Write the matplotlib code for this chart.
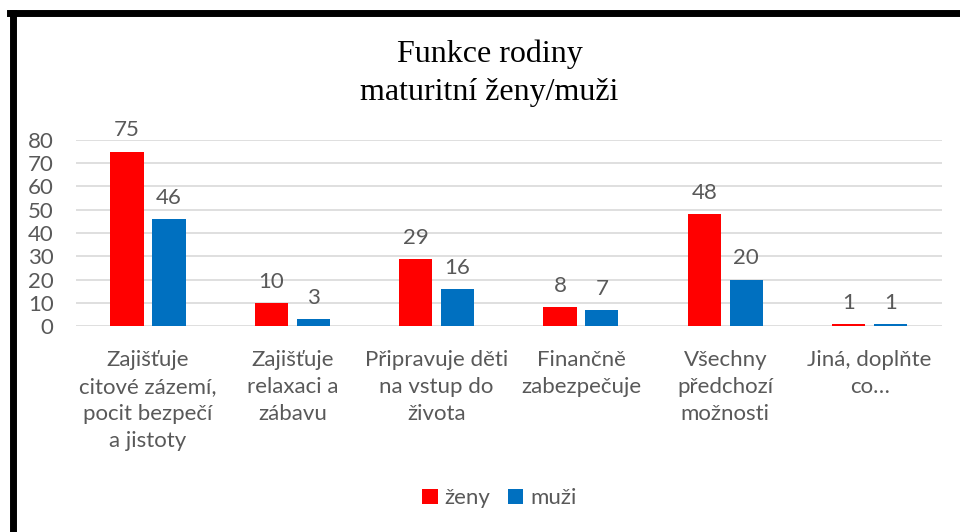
import numpy as np
import matplotlib.pyplot as plt
from matplotlib.lines import Line2D

categories = ['Zajišťuje\ncitové zázemí,\npocit bezpečí\na jistoty',
              'Zajišťuje\nrelaxaci a\nzábavu',
              'Připravuje děti\nna vstup do\nživota',
              'Finančně\nzabezpečuje',
              'Všechny\npředchozí\nmožnosti',
              'Jiná, doplňte\nco…']
zeny = [75, 10, 29, 8, 48, 1]
muzi = [46, 3, 16, 7, 20, 1]
yticks = [0, 10, 20, 30, 40, 50, 60, 70, 80]

red = '#ff0000'
blue = '#0070c0'
gray = '#595959'
font = ['Lato', 'DejaVu Sans']

fig = plt.figure(figsize=(9.6, 5.32), dpi=100)
ax = fig.add_axes([0.079, 0.387, 0.902, 0.35])

x = np.arange(len(categories))
w = 0.23
gap = 0.03
b1 = ax.bar(x - w / 2 - gap, zeny, w, color=red, label='ženy')
b2 = ax.bar(x + w / 2 + gap, muzi, w, color=blue, label='muži')

for bars in (b1, b2):
    for b in bars:
        ax.annotate(str(int(b.get_height())), (b.get_x() + b.get_width() / 2, b.get_height()),
                    xytext=(0, 8), textcoords='offset points', ha='center', va='bottom',
                    fontsize=16, color=gray, family=font)

ax.set_xlim(-0.5, len(categories) - 0.5)
ax.set_ylim(0, 80)
ax.set_yticks(yticks)
ax.yaxis.grid(True, color='#d9d9d9', linewidth=1.2)
ax.set_axisbelow(True)
for s in ax.spines.values():
    s.set_visible(False)
ax.tick_params(length=0)
ax.set_yticklabels([str(v) for v in yticks], fontsize=16, color=gray, family=font)
ax.yaxis.set_tick_params(pad=16)
ax.set_xticks(x)
ax.set_xticklabels(categories, fontsize=16, color=gray, family=font, linespacing=1.45, va='top')
ax.xaxis.set_tick_params(pad=17)

fig.text(0.51, 0.862, 'Funkce rodiny\nmaturitní ženy/muži', ha='center', va='center',
         fontsize=23, family='Liberation Serif', linespacing=1.4)

leg = fig.legend(handles=[b1, b2], loc='center', bbox_to_anchor=(0.52, 0.063), ncol=2,
                 frameon=False, prop={'family': font, 'size': 16}, handlelength=0.7,
                 handleheight=0.7, handletextpad=0.3, columnspacing=0.8)
for t in leg.get_texts():
    t.set_color(gray)

# black frame on left and top
fig.add_artist(Line2D([0.0131, 0.0131], [0, 0.975], color='black', linewidth=5, transform=fig.transFigure))
fig.add_artist(Line2D([0.0107, 1.0], [0.9755, 0.9755], color='black', linewidth=5, transform=fig.transFigure))

fig.savefig('out.png', dpi=100)
